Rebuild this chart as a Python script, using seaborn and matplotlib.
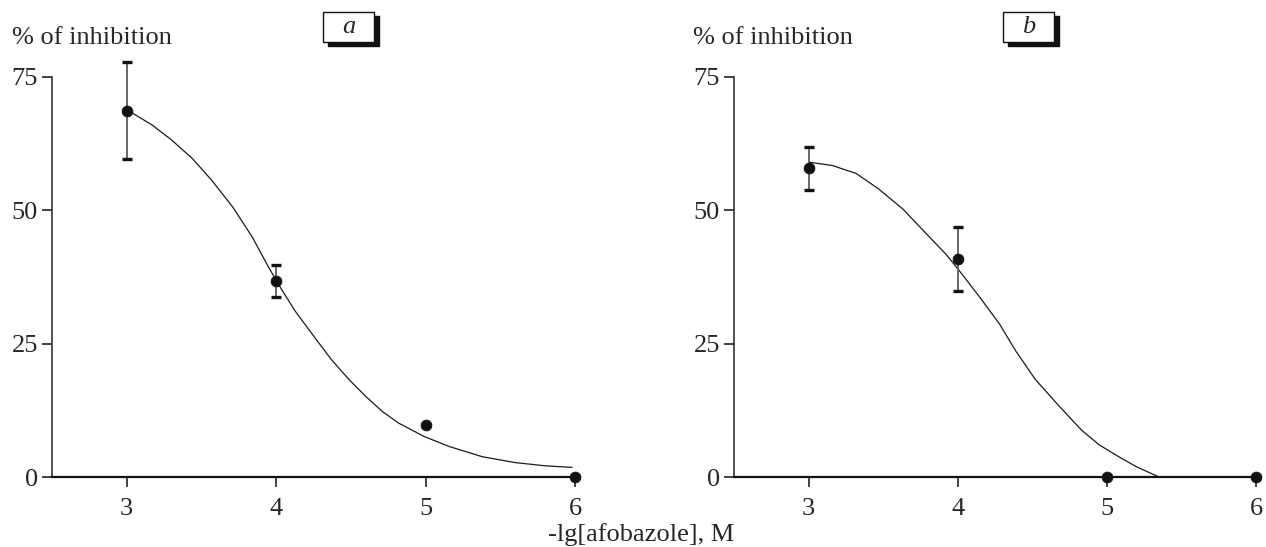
import matplotlib
matplotlib.use("Agg")
import matplotlib.pyplot as plt
import seaborn as sns
from matplotlib.patches import Rectangle

# measured points (x = -lg[afobazole], y = % of inhibition)
dose = [3, 4, 5, 6]
inhib_a = [68.7, 36.7, 9.7, 0.0]
err_a = [9.1, 3.0, 0.0, 0.0]
inhib_b = [57.9, 40.9, 0.0, 0.0]
err_b = [4.0, 6.0, 0.0, 0.0]

# fitted curves
curve_x_a = [3.0, 3.04, 3.17, 3.30, 3.44, 3.57, 3.71, 3.84, 3.95, 4.04, 4.13, 4.26, 4.37,
             4.49, 4.60, 4.71, 4.82, 4.99, 5.16, 5.38, 5.60, 5.80, 5.98]
curve_y_a = [68.5, 68.2, 66.0, 63.2, 59.7, 55.6, 50.6, 45.0, 39.3, 35.0, 31.0, 26.1, 22.0,
             18.2, 15.1, 12.3, 10.1, 7.6, 5.7, 3.8, 2.7, 2.1, 1.8]
curve_x_b = [3.01, 3.16, 3.32, 3.47, 3.63, 3.78, 3.92, 4.01, 4.14, 4.28, 4.39, 4.52,
             4.68, 4.83, 4.95, 5.08, 5.2, 5.35]
curve_y_b = [59.0, 58.4, 56.9, 54.0, 50.3, 45.9, 41.8, 38.7, 34.0, 28.7, 23.6, 18.3,
             13.3, 8.8, 6.0, 3.8, 1.9, 0.0]

panels = ["a", "b"]
yticks = [0, 25, 50, 75]
xticks = [3, 4, 5, 6]

sns.set_style("ticks")
plt.rcParams["font.family"] = ["Liberation Serif", "DejaVu Serif"]
plt.rcParams["font.size"] = 19

fig = plt.figure(figsize=(12.66, 5.47), dpi=100)
W, H = 1266, 547
ax_a = fig.add_axes([52 / W, 70 / H, 523 / W, 400 / H])
ax_b = fig.add_axes([734 / W, 70 / H, 522 / W, 400 / H])

datasets = [
    (ax_a, inhib_a, err_a, curve_x_a, curve_y_a, 12, 323),
    (ax_b, inhib_b, err_b, curve_x_b, curve_y_b, 693, 1003),
]

for (ax, vals, errs, cx, cy, lab_x, box_x), name in zip(datasets, panels):
    sns.lineplot(x=cx, y=cy, ax=ax, color="#1a1a1a", linewidth=0.9, sort=False)
    ex = [d for d, e in zip(dose, errs) if e > 0]
    ey = [v for v, e in zip(vals, errs) if e > 0]
    ee = [e for e in errs if e > 0]
    _, caps, bars = ax.errorbar(ex, ey, yerr=ee, fmt="none", ecolor="#666666",
                                elinewidth=1.4, capsize=3.6, capthick=2.4)
    for c in caps:
        c.set_color("#111111")
        c.set_markeredgecolor("#111111")
        c.set_markerfacecolor("#111111")
        c.set_clip_on(False)
    for b in bars:
        b.set_clip_on(False)
    sns.scatterplot(x=dose, y=vals, ax=ax, color="#111111", s=60,
                    edgecolor="#111111", zorder=5, clip_on=False)

    ax.set_xlim(2.5, 6)
    ax.set_ylim(0, 75)
    ax.set_xticks(xticks)
    ax.set_yticks(yticks)
    ax.tick_params(axis="both", direction="out", length=7, width=1.2,
                   color="#222222", labelsize=19, pad=3)
    ax.tick_params(axis="x", pad=8)
    for side in ["top", "right"]:
        ax.spines[side].set_visible(False)
    ax.spines["left"].set_linewidth(1.2)
    ax.spines["bottom"].set_linewidth(1.6)
    ax.spines["left"].set_color("#333333")
    ax.spines["bottom"].set_color("#111111")
    ax.set_xlabel("")
    ax.set_ylabel("")

    fig.text(lab_x / W, 1 - 38 / H, "% of inhibition", ha="left", va="center", fontsize=19)

    # boxed panel letter with drop shadow
    bw, bh = 51, 30
    fig.patches.append(Rectangle(((box_x + 5) / W, 1 - (12 + bh + 4) / H), bw / W, bh / H,
                                 transform=fig.transFigure, facecolor="#111111",
                                 edgecolor="#111111", zorder=1))
    fig.patches.append(Rectangle((box_x / W, 1 - (12 + bh) / H), bw / W, bh / H,
                                 transform=fig.transFigure, facecolor="white",
                                 edgecolor="#111111", linewidth=1.0, zorder=2))
    fig.text((box_x + bw / 2) / W, 1 - (12 + bh / 2) / H, name, ha="center", va="center",
             fontsize=19, style="italic", zorder=3)

fig.text(641 / W, 1 - 535 / H, "-lg[afobazole], M", ha="center", va="center", fontsize=19)

fig.savefig("out.png", dpi=100)
